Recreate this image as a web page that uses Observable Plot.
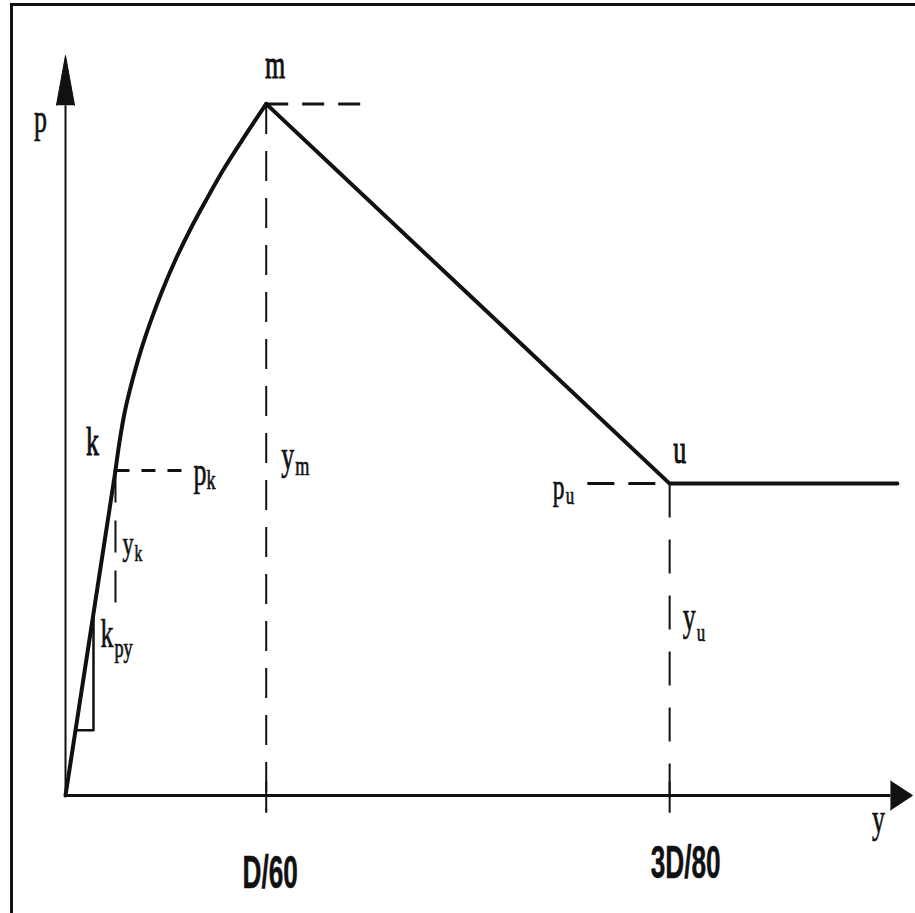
<!DOCTYPE html>
<html>
<head>
<meta charset="utf-8">
<script src="https://cdn.jsdelivr.net/npm/d3@7"></script>
<script src="https://cdn.jsdelivr.net/npm/@observablehq/plot@0.6"></script>
<style>
  html, body { margin: 0; padding: 0; background: #fff; overflow: hidden; }
  #wrap { position: relative; width: 915px; height: 913px; }
  #wrap svg { position: absolute; left: 0; top: 0; }
  #border {
    position: absolute; left: 10px; top: 3px; width: 1200px; height: 1200px;
    border-top: 3px solid #111; border-left: 3px solid #111;
    pointer-events: none; z-index: 2;
  }
</style>
</head>
<body>
<div id="wrap"></div>
<script>
// p–y curve: displacement y (in units of y_m) against resistance p (in units of p_m)

// key points of the curve
const yk = 0.249, pk = 0.47;   // end of the initial straight branch (slope k_py)
const ym = 1.0,   pm = 1.0;    // peak resistance, at D/60
const yu = 3.01,  pu = 0.451;  // residual resistance, reached at 3D/80
const yFlatEnd = 4.145;        // where the residual plateau is drawn to

// axis extents (arrow tips)
const yAxisEnd = 4.22, pAxisEnd = 1.07;

// parabolic branch between k and m
const parabolaY = [0.249, 0.270, 0.297, 0.333, 0.375, 0.426, 0.482, 0.547, 0.619, 0.699, 0.785, 0.879, 1.0];
const parabolaP = [0.470, 0.513, 0.557, 0.600, 0.643, 0.687, 0.730, 0.774, 0.817, 0.860, 0.904, 0.947, 1.0];

// slope triangle drawn under the initial branch
const triY = [0.05, 0.1395];

// dashed guide extents
const mLevelEnd = 1.52;
const kLevelEnd = 0.608;
const kDropEnd = 0.278;
const uLevelStart = 2.60;

// x-axis tick labels
const tickLabels = ["D/60", "3D/80"];
const tickAt = [ym, yu];

const ink = "#111";
const serif = "Liberation Serif";
const sans = "Liberation Sans";

const pts = a => a.map(([x, y]) => ({x, y}));
const path = (a, o = {}) => Plot.line(pts(a), {x: "x", y: "y", stroke: ink, strokeWidth: 4,
  strokeLinejoin: "round", strokeLinecap: "round", ...o});
const dashed = (a, dash, w) => Plot.line(pts(a), {x: "x", y: "y", stroke: ink, strokeWidth: w,
  strokeDasharray: dash, strokeLinecap: "butt"});

function label(t, x, y, {dx = 0, dy = 0, size = 40, anchor = "start", font = serif,
                         weight = "normal", halo = 0.7} = {}) {
  return Plot.text([{x, y, t}], {x: "x", y: "y", text: "t", dx, dy, fontSize: size,
    fontFamily: font, fontWeight: weight, textAnchor: anchor, lineAnchor: "bottom",
    fill: ink, stroke: ink, strokeWidth: halo});
}

const kpy = pk / yk;
const yArrowBase = pAxisEnd - 0.072;   // base of the vertical arrow head
const xArrowBase = yAxisEnd - 0.11;    // base of the horizontal arrow head

const marks = [
  // axes with filled arrow heads
  path([[0, 0], [xArrowBase, 0]], {strokeWidth: 3, strokeLinecap: "butt"}),
  path([[0, 0], [0, yArrowBase]], {strokeWidth: 2, strokeLinecap: "butt"}),
  path([[-0.045, yArrowBase], [0, pAxisEnd], [0.045, yArrowBase]], {fill: ink, strokeWidth: 1}),
  path([[xArrowBase, -0.021], [yAxisEnd, 0], [xArrowBase, 0.021]], {fill: ink, strokeWidth: 1}),

  // dashed guides
  dashed([[ym, pm], [mLevelEnd, pm]], "22,14", 3),
  dashed([[ym, pm], [ym, -0.022]], "30,17", 2),
  dashed([[yk, pk], [kLevelEnd, pk]], "14,12", 3),
  dashed([[yk, pk], [yk, kDropEnd]], "32,18", 2),
  dashed([[uLevelStart, pu], [yu, pu]], "27,14", 3),
  dashed([[yu, pu], [yu, -0.022]], "34,22", 2),
  ...tickAt.map(v => path([[v, -0.025], [v, 0.02]], {strokeWidth: 2, strokeLinecap: "butt"})),

  // slope triangle
  path([[triY[0], kpy * triY[0]], [triY[1], kpy * triY[0]], [triY[1], kpy * triY[1]]], {strokeWidth: 2.5}),

  // the curve: initial straight branch, parabola, softening branch and plateau
  path([[0, 0], [yk, pk]]),
  path(parabolaY.map((v, i) => [v, parabolaP[i]]), {curve: "catmull-rom"}),
  path([[ym, pm], [yu, pu], [yFlatEnd, pu]]),

  // point and axis labels
  label("p", 0, pm, {dx: -25, dy: 28, anchor: "middle"}),
  label("m", ym, pm, {dx: 9, dy: -26, anchor: "middle", halo: 1}),
  label("k", yk, pk, {dx: -23, dy: -15, anchor: "middle", halo: 1}),
  label("p", yk, pk, {dx: 78, dy: 15}),
  label("k", yk, pk, {dx: 91, dy: 19, size: 28}),
  label("y", ym, pk, {dx: 15, dy: -1}),
  label("m", ym, pk, {dx: 29, dy: 5, size: 28}),
  label("y", yk, pk, {dx: 7, dy: 85, size: 34}),
  label("k", yk, pk, {dx: 19, dy: 91, size: 24}),
  label("k", yk, pk, {dx: -15, dy: 177}),
  label("py", yk, pk, {dx: -1, dy: 187, size: 28}),
  label("u", yu, pu, {dx: 10, dy: -21, anchor: "middle", halo: 1}),
  label("p", yu, pu, {dx: -117, dy: 15, size: 36}),
  label("u", yu, pu, {dx: -104, dy: 20, size: 26}),
  label("y", yu, pu, {dx: 13, dy: 146}),
  label("u", yu, pu, {dx: 27, dy: 157, size: 26}),
  label("y", yAxisEnd, 0, {dx: -34, dy: 36, anchor: "middle"}),
  label(tickLabels[0], tickAt[0], 0, {dx: 4, dy: 92, size: 46, anchor: "middle", font: sans, weight: "bold", halo: 0.5}),
  label(tickLabels[1], tickAt[1], 0, {dx: 16, dy: 82, size: 46, anchor: "middle", font: sans, weight: "bold", halo: 0.5})
];

const chart = Plot.plot({
  width: 915,
  height: 913,
  marginLeft: 65,
  marginRight: 3,
  marginTop: 55,
  marginBottom: 118,
  x: {domain: [0, yAxisEnd], axis: null},
  y: {domain: [0, pAxisEnd], axis: null},
  style: {background: "transparent"},
  marks
});

// narrow the lettering horizontally, as set in the original figure
chart.querySelectorAll("text").forEach(t => {
  let g = t.parentNode, fam = "";
  while (g && g !== chart && !fam) { fam = (g.getAttribute && g.getAttribute("font-family")) || ""; g = g.parentNode; }
  const s = fam.includes("Sans") ? 0.57 : 0.65;
  const x = +(t.getAttribute("x") || 0), y = +(t.getAttribute("y") || 0);
  const tr = t.getAttribute("transform") || "";
  t.removeAttribute("x");
  t.removeAttribute("y");
  t.setAttribute("transform", `${tr} translate(${x},${y}) scale(${s},1)`);
});

const wrap = document.getElementById("wrap");
wrap.appendChild(chart);
const border = document.createElement("div");
border.id = "border";
wrap.appendChild(border);
</script>
</body>
</html>
